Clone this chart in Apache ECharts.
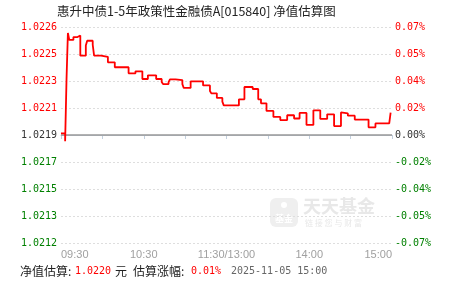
<!DOCTYPE html>
<html>
<head>
<meta charset="utf-8">
<script src="https://cdn.jsdelivr.net/npm/echarts@6/dist/echarts.min.js"></script>
<style>
html,body{margin:0;padding:0;background:#fff;}
#c{width:451px;height:281px;}
</style>
</head>
<body>
<div id="c"></div>
<script>
// ---- data ----
var titleText = '惠升中债1-5年政策性金融债A[015840] 净值估算图';
// minutes after 09:30 (trading minutes, lunch break removed) where the estimate changes
var minutes = [0,3,4,5,6,9,12,14,18,19,23,24,29,34,39,49,54,59,63,69,73,74,78,79,83,88,89,94,103,108,109,113,117,118,129,133,139,143,145,149,154,159,164,169,173,178,183,188,193,198,203,204,208,213,223,228,238,239];
// estimated change (%) at those minutes
var changePct = [0.0011,-0.0040,0.0360,0.0661,0.0616,0.0635,0.0645,0.0514,0.0580,0.0611,0.0585,0.0514,0.0507,0.0471,0.0439,0.0400,0.0413,0.0363,0.0387,0.0363,0.0343,0.0330,0.0343,0.0361,0.0356,0.0330,0.0305,0.0348,0.0321,0.0285,0.0270,0.0240,0.0216,0.0192,0.0231,0.0311,0.0298,0.0231,0.0205,0.0156,0.0117,0.0097,0.0128,0.0107,0.0143,0.0065,0.0160,0.0104,0.0134,0.0058,0.0146,0.0140,0.0125,0.0100,0.0050,0.0075,0.0075,0.0145];
// y tick labels, bottom to top
var navLabels = ['1.0212','1.0213','1.0215','1.0217','1.0219','1.0221','1.0223','1.0225','1.0226'];
var pctLabels = ['-0.07%','-0.05%','-0.04%','-0.02%','0.00%','0.02%','0.04%','0.05%','0.07%'];
// x tick labels, every 30 minutes
var timeLabels = ['09:30','','10:30','','11:30/13:00','','14:00','','15:00'];
var footNav = '1.0220';
var footPct = '0.01%';
var footTime = '2025-11-05 15:00';

var yMin = -0.07, yMax = 0.07, yStep = 0.0175;
var seriesData = minutes.map(function(m,i){ return [m, changePct[i]]; });

function tickIndex(v){ return Math.round((v - yMin) / yStep); }
function labelColor(v){
  var i = tickIndex(v);
  return i > 4 ? '#ff0000' : (i < 4 ? '#008000' : '#333333');
}
var monoFont = 'DejaVu Sans Mono';

var chart = echarts.init(document.getElementById('c'), null, {renderer:'canvas'});
chart.setOption({
  animation: false,
  backgroundColor: '#fff',
  grid: {left: 61, right: 59, top: 27, bottom: 38, containLabel: false},
  xAxis: {
    type: 'value', min: 0, max: 240, interval: 30,
    axisLine: {show: true, lineStyle: {color: '#c3d0de', width: 1}},
    axisTick: {show: true, length: 4, lineStyle: {color: '#c3d0de'}},
    splitLine: {show: false},
    axisLabel: {
      margin: 6, color: '#a0a0a0', fontSize: 11, fontFamily: 'Liberation Sans',
      showMinLabel: true, showMaxLabel: true,
      alignMinLabel: 'left', alignMaxLabel: 'right', hideOverlap: false,
      formatter: function(v){ return timeLabels[Math.round(v/30)] || ''; }
    }
  },
  yAxis: [{
    type: 'value', min: yMin, max: yMax, interval: yStep, position: 'left',
    axisLine: {show: false}, axisTick: {show: false},
    splitLine: {show: true, lineStyle: {color: '#dedede', type: [2,2], width: 1}},
    axisLabel: {
      margin: 4, fontSize: 10, fontFamily: monoFont,
      color: function(v){ return labelColor(v); },
      formatter: function(v){ return navLabels[tickIndex(v)]; }
    }
  },{
    type: 'value', min: yMin, max: yMax, interval: yStep, position: 'right',
    axisLine: {show: false}, axisTick: {show: false}, splitLine: {show: false},
    axisLabel: {
      margin: 3, fontSize: 10, fontFamily: monoFont,
      color: function(v){ return labelColor(v); },
      formatter: function(v){ return pctLabels[tickIndex(v)]; }
    }
  }],
  series: [{
    type: 'line', step: 'end', data: seriesData, showSymbol: false, symbol: 'none',
    lineStyle: {color: '#ff0000', width: 1.8}, z: 5,
    markLine: {
      silent: true, symbol: 'none', label: {show: false},
      lineStyle: {color: '#999', type: 'solid', width: 1.5},
      data: [{yAxis: 0}], z: 3
    }
  }],
  graphic: [
    {type: 'text', style: {x: 57, y: 5, text: titleText, fill: '#222', font: '12.5px "Noto Sans CJK SC"'}},
    // watermark
    {type: 'rect', shape: {x: 270, y: 198, width: 28, height: 29, r: 6}, style: {fill: '#efefef'}, z: -1},
    {type: 'text', style: {x: 284, y: 219, text: '基金', fill: '#fff', font: 'bold 9px "Noto Sans CJK SC"', textAlign: 'center', textVerticalAlign: 'middle'}, z: -1},
    {type: 'circle', shape: {cx: 284, cy: 205, r: 3}, style: {fill: '#fff'}, z: -1},
    {type: 'text', style: {x: 303, y: 197, text: '天天基金', fill: '#e8e8e8', font: 'bold 18px "Noto Sans CJK SC"'}, z: -1},
    {type: 'text', style: {x: 305, y: 219, text: '链 接 您 与 财 富', fill: '#e8e8e8', font: '8px "Noto Sans CJK SC"'}, z: -1},
    // footer
    {type: 'text', style: {x: 20, y: 265, text: '净值估算:', fill: '#222', font: '12px "Noto Sans CJK SC"'}},
    {type: 'text', style: {x: 75, y: 266, text: footNav, fill: '#ff0000', font: '10px "DejaVu Sans Mono"'}},
    {type: 'text', style: {x: 115, y: 265, text: '元', fill: '#222', font: '12px "Noto Sans CJK SC"'}},
    {type: 'text', style: {x: 133, y: 265, text: '估算涨幅:', fill: '#222', font: '12px "Noto Sans CJK SC"'}},
    {type: 'text', style: {x: 191, y: 266, text: footPct, fill: '#ff0000', font: '10px "DejaVu Sans Mono"'}},
    {type: 'text', style: {x: 231, y: 266, text: footTime, fill: '#666', font: '10px "DejaVu Sans Mono"'}}
  ]
});
</script>
</body>
</html>
